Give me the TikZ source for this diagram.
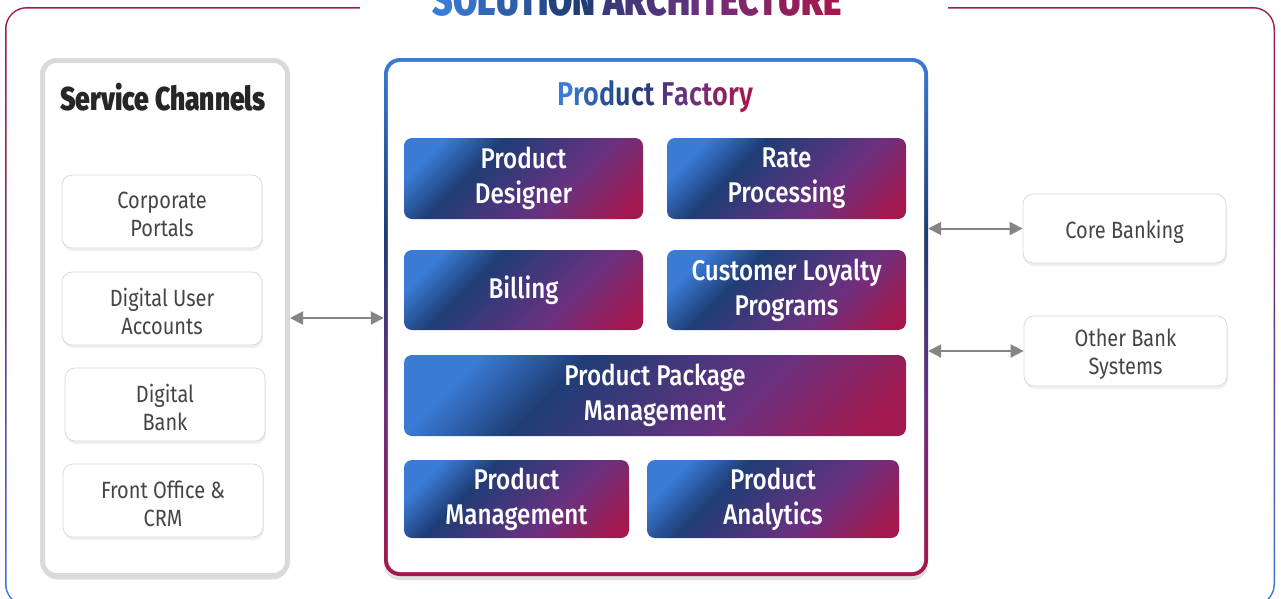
\documentclass[tikz,border=0pt]{standalone}
\usepackage{fontspec}
\setmainfont{Fira Sans}[FakeStretch=0.85]
\IfFontExistsTF{Fira Sans Black}
  {\newfontfamily\heavyfont{Fira Sans Black}[FakeStretch=0.8]\def\heavyweight{}}
  {\IfFontExistsTF{Fira Sans ExtraBold}
     {\newfontfamily\heavyfont{Fira Sans ExtraBold}[FakeStretch=0.8]\def\heavyweight{}}
     {\newfontfamily\heavyfont{Fira Sans}[FakeStretch=0.8]\def\heavyweight{\bfseries}}}
\IfFontExistsTF{Fira Sans Medium}
  {\newfontfamily\boxfont{Fira Sans Medium}[FakeStretch=0.85]}
  {\newfontfamily\boxfont{Fira Sans}[FakeStretch=0.85]}
\IfFontExistsTF{Fira Sans SemiBold}
  {\newfontfamily\semifont{Fira Sans SemiBold}[FakeStretch=0.82]\def\semiweight{}}
  {\newfontfamily\semifont{Fira Sans}[FakeStretch=0.82]\def\semiweight{\bfseries}}
\usetikzlibrary{arrows.meta,shadows,calc}
\definecolor{gblue}{HTML}{3A7BD5}
\definecolor{gnavy}{HTML}{1F3D75}
\definecolor{gpurple}{HTML}{6A3180}
\definecolor{gred}{HTML}{A3194F}
\definecolor{chtext}{HTML}{454545}
\definecolor{headtext}{HTML}{262626}
\definecolor{scborder}{HTML}{DADADA}
\definecolor{chborder}{HTML}{D9D9D9}
\definecolor{arrowgray}{HTML}{858585}
\pgfdeclareverticalshading{framev}{100bp}{color(0bp)=(gblue); color(25bp)=(gblue); color(50bp)=(gpurple); color(75bp)=(gred); color(100bp)=(gred)}
\pgfdeclareverticalshading{pfv}{100bp}{color(0bp)=(gred); color(25bp)=(gred); color(42bp)=(gpurple); color(58bp)=(gnavy); color(75bp)=(gblue); color(100bp)=(gblue)}
\pgfdeclarehorizontalshading{boxh}{100bp}{color(0bp)=(gblue); color(24bp)=(gblue); color(37bp)=(gnavy); color(62bp)=(gpurple); color(80bp)=(gred); color(100bp)=(gred)}
\newcommand\lowline[1]{\raisebox{-3pt}[\height][\depth]{#1}}
\ExplSyntaxOn
\tl_new:N \l__gt_tl
\tl_new:N \l__gt_col_tl
\int_new:N \l__gt_n_int
\int_new:N \l__gt_i_int
\int_new:N \l__gt_t_int
\int_new:N \l__gt_s_int
\cs_new_protected:Npn \__gt_letter:n #1
  {
    \int_incr:N \l__gt_i_int
    \tl_if_eq:nnTF {#1} {\gtspace}
      { \c_space_tl }
      {
        \int_set:Nn \l__gt_t_int { \int_div_truncate:nn { 300 * ( \l__gt_i_int - 1 ) } { \int_max:nn { \l__gt_n_int - 1 } { 1 } } }
        \int_compare:nNnTF { \l__gt_t_int } < { 100 }
          { \int_set:Nn \l__gt_s_int { 100 - \l__gt_t_int } \tl_set:Nx \l__gt_col_tl { gblue!\int_use:N \l__gt_s_int!gnavy } }
          {
            \int_compare:nNnTF { \l__gt_t_int } < { 200 }
              { \int_set:Nn \l__gt_s_int { 200 - \l__gt_t_int } \tl_set:Nx \l__gt_col_tl { gnavy!\int_use:N \l__gt_s_int!gpurple } }
              { \int_set:Nn \l__gt_s_int { 300 - \l__gt_t_int } \tl_set:Nx \l__gt_col_tl { gpurple!\int_use:N \l__gt_s_int!gred } }
          }
        { \color{\l__gt_col_tl} #1 }
      }
  }
\NewDocumentCommand \gradtext { m }
  {
    \tl_set:Nn \l__gt_tl {#1}
    \tl_replace_all:Nnn \l__gt_tl { ~ } { \gtspace }
    \int_set:Nn \l__gt_n_int { \tl_count:N \l__gt_tl }
    \int_zero:N \l__gt_i_int
    \tl_map_inline:Nn \l__gt_tl { \__gt_letter:n {##1} }
  }
\ExplSyntaxOff
\tikzset{
  scpanel/.style={draw=scborder, line width=5pt, fill=white, rounded corners=14pt,
    drop shadow={opacity=0.25, shadow xshift=0pt, shadow yshift=-4pt}},
  chbox/.style={draw=chborder, line width=0.8pt, fill=white, rounded corners=10pt,
    align=center, text=chtext, inner sep=0pt, font=\fontsize{23.5}{28}\selectfont,
    drop shadow={opacity=0.12, shadow xshift=1pt, shadow yshift=-3pt}},
  pbox/.style={shade, shading=boxh, shading angle=-45, rounded corners=8pt, text=white,
    align=center, inner sep=0pt, font=\boxfont\fontsize{28.5}{35}\selectfont},
  conn/.style={draw=arrowgray, line width=2pt,
    {Triangle[length=13pt,width=13pt]}-{Triangle[length=13pt,width=13pt]}},
}
\begin{document}
\begin{tikzpicture}[x=1pt,y=-1pt]
\useasboundingbox (0,0) rectangle (1281,598);
\clip (0,0) rectangle (1281,598);
% outer frame
\shade[shading=framev, rounded corners=22pt] (5,7) rectangle (1275,606);
\fill[white, rounded corners=20.5pt] (6.5,8.5) rectangle (1273.5,604.5);
\fill[white] (360,0) rectangle (948,12);
\node[anchor=base, inner sep=0pt, font=\heavyfont\heavyweight\fontsize{44}{44}\selectfont] (title) at (637,15) {\gradtext{SOLUTION ARCHITECTURE}};
% service channels
\node[scpanel, minimum width=245pt, minimum height=515pt] (sc) at (165,318) {};
\node[font=\heavyfont\heavyweight\fontsize{33}{38}\selectfont, text=headtext] (schead) at (163,97) {Service Channels};
\node[chbox, minimum width=200pt, minimum height=73pt] (cp) at (162,211.5) {\lowline{Corporate}\\\lowline{Portals}};
\node[chbox, minimum width=200pt, minimum height=73pt] (dua) at (162,308.5) {\lowline{Digital User}\\\lowline{Accounts}};
\node[chbox, minimum width=200pt, minimum height=73pt] (db) at (165,404.5) {\lowline{Digital}\\\lowline{Bank}};
\node[chbox, minimum width=200pt, minimum height=73pt] (fo) at (163,500.5) {\lowline{Front Office \&}\\\lowline{CRM}};
% product factory
\node[shade, shading=pfv, rounded corners=16pt, minimum width=544pt, minimum height=518pt, inner sep=0pt,
  drop shadow={opacity=0.25, shadow xshift=0pt, shadow yshift=-4pt}] (pf) at (656,317) {};
\fill[white, rounded corners=12.5pt] ($(pf.north west)+(4,4)$) rectangle ($(pf.south east)+(-4,-4)$);
\node[font=\semifont\semiweight\fontsize{33}{38}\selectfont] (pfhead) at (655,97) {\gradtext{Product Factory}};
\node[pbox, minimum width=239pt, minimum height=81pt] (pd) at (523.5,178.5) {Product\\Designer};
\node[pbox, minimum width=239pt, minimum height=81pt] (rp) at (786.5,178.5) {Rate\\Processing};
\node[pbox, minimum width=239pt, minimum height=80pt] (bi) at (523.5,290) {Billing};
\node[pbox, minimum width=239pt, minimum height=80pt] (cl) at (786.5,290) {Customer Loyalty\\Programs};
\node[pbox, minimum width=502pt, minimum height=81pt] (ppm) at (655,395.5) {Product Package\\Management};
\node[pbox, minimum width=225pt, minimum height=78pt] (pm) at (516.5,499) {Product\\Management};
\node[pbox, minimum width=252pt, minimum height=78pt] (pa) at (773,499) {Product\\Analytics};
% external systems
\node[chbox, minimum width=203pt, minimum height=69pt] (cb) at (1124.5,228.5) {\lowline{Core Banking}};
\node[chbox, minimum width=203pt, minimum height=70pt] (ob) at (1125.5,351) {\lowline{Other Bank}\\\lowline{Systems}};
% connectors
\draw[conn] (sc.east) -- (sc.east -| pf.west);
\draw[conn] (cb.west -| pf.east) -- (cb.west);
\draw[conn] (ob.west -| pf.east) -- (ob.west);
\end{tikzpicture}
\end{document}
